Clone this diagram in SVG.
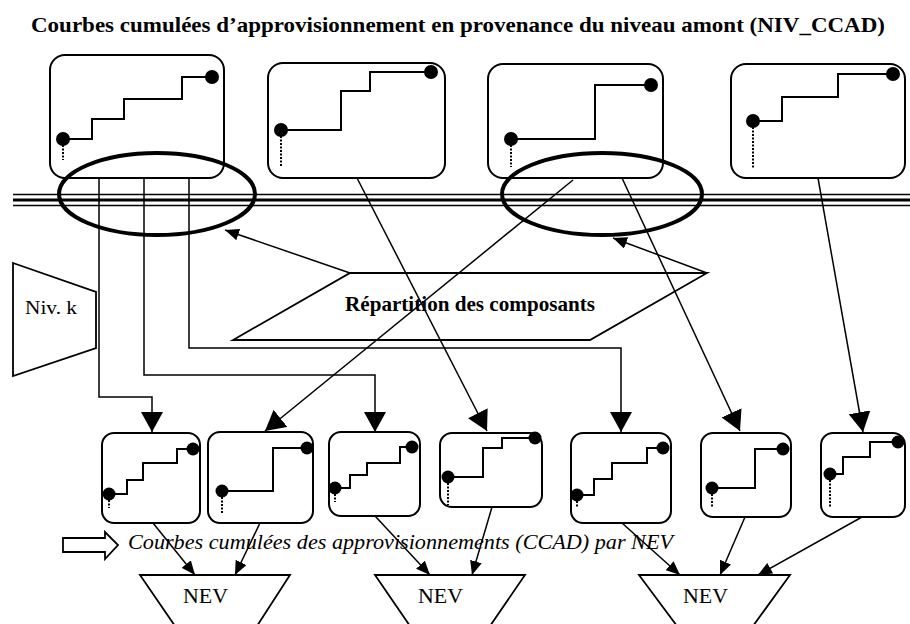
<svg xmlns="http://www.w3.org/2000/svg" width="910" height="624" viewBox="0 0 910 624">
<defs>
<style>
.box{fill:none;stroke:#000;stroke-width:2}
.st{fill:none;stroke:#000;stroke-width:2}
.dot{fill:#000}
.dash{stroke:#000;stroke-width:2;stroke-dasharray:2 1.5}
.ln{fill:none;stroke:#000;stroke-width:1.5}
.ell{fill:none;stroke:#000;stroke-width:4}
.shape{fill:#fff;stroke:#000;stroke-width:1.8}
.t{font-family:"Liberation Serif","Times New Roman",serif;fill:#000}
</style>
<marker id="big" markerUnits="userSpaceOnUse" markerWidth="20" markerHeight="22" refX="20" refY="11" orient="auto" viewBox="0 0 20 22"><path d="M0,0 L20,11 L0,22 z" fill="#000"/></marker>
<marker id="sm" markerUnits="userSpaceOnUse" markerWidth="14" markerHeight="12" refX="14" refY="6" orient="auto" viewBox="0 0 14 12"><path d="M0,0 L14,6 L0,12 z" fill="#000"/></marker>
</defs>
<rect width="910" height="624" fill="#fff"/>
<text class="t" x="31" y="32" font-size="22" font-weight="bold" textLength="854" lengthAdjust="spacingAndGlyphs">Courbes cumulées d’approvisionnement en provenance du niveau amont (NIV_CCAD)</text>

<g id="bus">
<line x1="13" y1="194.5" x2="910" y2="194.5" stroke="#000" stroke-width="1.5"/>
<line x1="13" y1="200" x2="910" y2="200" stroke="#000" stroke-width="3.2"/>
<line x1="13" y1="205.5" x2="910" y2="205.5" stroke="#000" stroke-width="1.5"/>
</g>

<g id="top1">
<rect class="box" x="50" y="55" width="174" height="123" rx="15"/>
<polyline class="st" points="63,139 92,139 92,119 124,119 124,99 182,99 182,77 212,77"/>
<circle class="dot" cx="63" cy="139" r="7"/><circle class="dot" cx="212" cy="77" r="7"/>
<line class="dash" x1="63" y1="145" x2="63" y2="160"/>
</g>
<g id="top2">
<rect class="box" x="268" y="63" width="177" height="115" rx="15"/>
<polyline class="st" points="281,130 341,130 341,91 370,91 370,72 431,72"/>
<circle class="dot" cx="281" cy="130" r="7"/><circle class="dot" cx="431" cy="72" r="7"/>
<line class="dash" x1="281" y1="136" x2="281" y2="167"/>
</g>
<g id="top3">
<rect class="box" x="488" y="64" width="175" height="114" rx="15"/>
<polyline class="st" points="511,139 595,139 595,85 651,85"/>
<circle class="dot" cx="511" cy="139" r="7"/><circle class="dot" cx="651" cy="85" r="7"/>
<line class="dash" x1="511" y1="145" x2="511" y2="167"/>
</g>
<g id="top4">
<rect class="box" x="731" y="64" width="174" height="114" rx="15"/>
<polyline class="st" points="753,121 782,121 782,97 838,97 838,74 893,74"/>
<circle class="dot" cx="753" cy="121" r="7"/><circle class="dot" cx="893" cy="74" r="7"/>
<line class="dash" x1="753" y1="127" x2="753" y2="168"/>
</g>

<g id="nivk">
<polygon class="shape" points="13,263 96,292 96,348 13,376"/>
<text class="t" x="25" y="314" font-size="19" textLength="52" lengthAdjust="spacingAndGlyphs">Niv. k</text>
</g>

<g id="repartition">
<polygon class="shape" points="350,273 707,273 590,340 233,340"/>
</g>

<g id="connectors">
<polyline class="ln" points="99,178 99,397 152,397 152,432" marker-end="url(#big)"/>
<polyline class="ln" points="144,178 144,375 375,375 375,432" marker-end="url(#big)"/>
<polyline class="ln" points="189,178 189,348 621,348 621,432" marker-end="url(#big)"/>
<line class="ln" x1="357" y1="178" x2="487" y2="431" marker-end="url(#big)"/>
<line class="ln" x1="573" y1="180" x2="265" y2="431" marker-end="url(#big)"/>
<line class="ln" x1="622" y1="178" x2="740" y2="431" marker-end="url(#big)"/>
<line class="ln" x1="818" y1="178" x2="863" y2="432" marker-end="url(#big)"/>
<line class="ln" x1="350" y1="273" x2="225" y2="230" marker-end="url(#sm)"/>
<line class="ln" x1="707" y1="273" x2="613" y2="238" marker-end="url(#sm)"/>
<line class="ln" x1="153" y1="523" x2="195" y2="575" marker-end="url(#sm)"/>
<line class="ln" x1="260" y1="523" x2="235" y2="575" marker-end="url(#sm)"/>
<line class="ln" x1="375" y1="516" x2="430" y2="575" marker-end="url(#sm)"/>
<line class="ln" x1="492" y1="507" x2="472" y2="575" marker-end="url(#sm)"/>
<line class="ln" x1="622" y1="523" x2="680" y2="575" marker-end="url(#sm)"/>
<line class="ln" x1="745" y1="517" x2="720" y2="575" marker-end="url(#sm)"/>
<line class="ln" x1="862" y1="517" x2="758" y2="575" marker-end="url(#sm)"/>
</g>

<text class="t" x="345" y="311" font-size="21" font-weight="bold" textLength="250" lengthAdjust="spacingAndGlyphs">Répartition des composants</text>

<ellipse class="ell" cx="157" cy="194" rx="98" ry="41"/>
<ellipse class="ell" cx="602" cy="194" rx="100" ry="41"/>

<g id="b1">
<rect class="box" x="102" y="433" width="98" height="90" rx="12"/>
<polyline class="st" points="109,494 127,494 127,480 143,480 143,463 177,463 177,449 193,449"/>
<circle class="dot" cx="109" cy="494" r="6.5"/><circle class="dot" cx="193" cy="449" r="6.5"/>
<line class="dash" x1="109" y1="500" x2="109" y2="508"/>
</g>
<g id="b2">
<rect class="box" x="208" y="432" width="105" height="91" rx="12"/>
<polyline class="st" points="222,491 273,491 273,448 307,448"/>
<circle class="dot" cx="222" cy="491" r="6.5"/><circle class="dot" cx="307" cy="448" r="6.5"/>
<line class="dash" x1="222" y1="497" x2="222" y2="513"/>
</g>
<g id="b3">
<rect class="box" x="329" y="432" width="91" height="84" rx="12"/>
<polyline class="st" points="335,488 350,488 350,475 367,475 367,463 400,463 400,447 412,447"/>
<circle class="dot" cx="335" cy="488" r="6.5"/><circle class="dot" cx="412" cy="447" r="6.5"/>
<line class="dash" x1="335" y1="494" x2="335" y2="502"/>
</g>
<g id="b4">
<rect class="box" x="440" y="433" width="102" height="74" rx="12"/>
<polyline class="st" points="448,477 483,477 483,448 502,448 502,438 535,438"/>
<circle class="dot" cx="448" cy="477" r="6.5"/><circle class="dot" cx="535" cy="438" r="6.5"/>
<line class="dash" x1="448" y1="483" x2="448" y2="505"/>
</g>
<g id="b5">
<rect class="box" x="571" y="433" width="100" height="90" rx="12"/>
<polyline class="st" points="577,495 594,495 594,479 612,479 612,463 647,463 647,448 663,448"/>
<circle class="dot" cx="577" cy="495" r="6.5"/><circle class="dot" cx="663" cy="448" r="6.5"/>
<line class="dash" x1="577" y1="501" x2="577" y2="508"/>
</g>
<g id="b6">
<rect class="box" x="701" y="433" width="90" height="84" rx="12"/>
<polyline class="st" points="712,488 755,488 755,449 783,449"/>
<circle class="dot" cx="712" cy="488" r="6.5"/><circle class="dot" cx="783" cy="449" r="6.5"/>
<line class="dash" x1="712" y1="494" x2="712" y2="508"/>
</g>
<g id="b7">
<rect class="box" x="821" y="433" width="84" height="84" rx="12"/>
<polyline class="st" points="830,474 843,474 843,457 870,457 870,442 898,442"/>
<circle class="dot" cx="830" cy="474" r="6.5"/><circle class="dot" cx="898" cy="442" r="6.5"/>
<line class="dash" x1="830" y1="480" x2="830" y2="508"/>
</g>

<g id="legend">
<polygon fill="#fff" stroke="#000" stroke-width="1.8" points="63,538 105,538 105,532 118,545 105,559 105,552 63,552"/>
<text class="t" x="128" y="549" font-size="22" font-style="italic" textLength="545" lengthAdjust="spacingAndGlyphs">Courbes cumulées des approvisionnements (CCAD) par NEV</text>
</g>

<g id="nev1">
<polygon class="shape" style="fill:none" points="140,575 290,575 257,626 175,626"/>
<text class="t" x="183" y="603" font-size="22" textLength="45" lengthAdjust="spacingAndGlyphs">NEV</text>
</g>
<g id="nev2">
<polygon class="shape" style="fill:none" points="375,575 525,575 490,626 410,626"/>
<text class="t" x="418" y="603" font-size="22" textLength="45" lengthAdjust="spacingAndGlyphs">NEV</text>
</g>
<g id="nev3">
<polygon class="shape" style="fill:none" points="639,575 790,575 753,626 677,626"/>
<text class="t" x="683" y="603" font-size="22" textLength="45" lengthAdjust="spacingAndGlyphs">NEV</text>
</g>
</svg>
